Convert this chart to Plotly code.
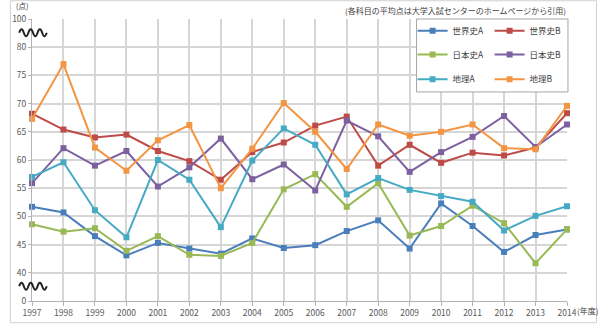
import plotly.graph_objects as go

years = list(range(1997, 2015))

sekaishi_a = [51.7, 50.7, 46.5, 43.1, 45.3, 44.3, 43.4, 46.1, 44.4, 44.9, 47.4, 49.3, 44.3, 52.3, 48.3, 43.7, 46.7, 47.7]
sekaishi_b = [68.2, 65.4, 64.0, 64.5, 61.6, 59.8, 56.5, 61.4, 63.1, 66.1, 67.7, 59.0, 62.7, 59.5, 61.3, 60.8, 62.2, 68.3]
nihonshi_a = [48.6, 47.3, 47.9, 43.9, 46.5, 43.2, 43.0, 45.3, 54.8, 57.5, 51.7, 55.9, 46.6, 48.3, 51.9, 48.8, 41.7, 47.7]
nihonshi_b = [55.9, 62.1, 59.0, 61.6, 55.3, 58.7, 63.8, 56.6, 59.2, 54.6, 67.0, 64.2, 57.9, 61.4, 64.1, 67.8, 62.3, 66.3]
chiri_a = [57.0, 59.6, 51.1, 46.3, 60.0, 56.5, 48.1, 59.9, 65.6, 62.7, 53.9, 56.8, 54.7, 53.6, 52.6, 47.5, 50.1, 51.8]
chiri_b = [67.3, 77.0, 62.2, 58.1, 63.5, 66.2, 55.0, 62.0, 70.1, 65.0, 58.4, 66.3, 64.3, 65.0, 66.3, 62.1, 61.9, 69.6]

series_names = ["世界史A", "世界史B", "日本史A", "日本史B", "地理A", "地理B"]
series_values = [sekaishi_a, sekaishi_b, nihonshi_a, nihonshi_b, chiri_a, chiri_b]
series_colors = ["#4A7EBB", "#BE4B48", "#98B954", "#7D60A0", "#46AAC5", "#F39543"]
series_legends = ["legend", "legend", "legend2", "legend2", "legend3", "legend3"]

# broken axis: 0 and 100 shown at one step outside 40..80
y_tick_vals = [35, 40, 45, 50, 55, 60, 65, 70, 75, 80, 85]
y_tick_text = ["0", "40", "45", "50", "55", "60", "65", "70", "75", "80", "100"]

title_text = "(各科目の平均点は大学入試センターのホームページから引用)"
y_unit = "(点)"
x_unit = "(年度)"

FONT = "Noto Sans CJK JP, Noto Sans, sans-serif"
W, H = 600, 330
L, R, T, B = 23, 33, 19, 25
PW, PH = W - L - R, H - T - B


def xp(px):
    return (px - L) / PW


def yp(py):
    return (H - B - py) / PH


fig = go.Figure()
for name, vals, col, lg in zip(series_names, series_values, series_colors, series_legends):
    fig.add_trace(go.Scatter(
        x=years, y=vals, name=name, mode="lines+markers",
        line=dict(color=col, width=2),
        marker=dict(symbol="square", size=6, color=col),
        cliponaxis=False, legend=lg,
    ))


def wave(px0, px1, py, amp=3.5, n=3):
    per = (px1 - px0) / n
    d = f"M{xp(px0):.5f},{yp(py):.5f}"
    x = px0
    for i in range(n):
        d += f" Q{xp(x + per / 4):.5f},{yp(py - 2 * amp):.5f} {xp(x + per / 2):.5f},{yp(py):.5f}"
        d += f" Q{xp(x + 3 * per / 4):.5f},{yp(py + 2 * amp):.5f} {xp(x + per):.5f},{yp(py):.5f}"
        x += per
    return d


shapes = [
    dict(type="rect", xref="paper", yref="paper", x0=xp(1), x1=xp(597), y0=yp(327), y1=yp(0.5),
         line=dict(color="#d0d0d0", width=1), fillcolor="rgba(0,0,0,0)", layer="below"),
    dict(type="rect", xref="paper", yref="paper", x0=xp(414), x1=xp(568), y0=yp(93), y1=yp(19),
         line=dict(color="#a6a6a6", width=1), fillcolor="white", layer="above"),
    dict(type="path", xref="paper", yref="paper", path=wave(10, 38, 33),
         line=dict(color="#222222", width=2), layer="above"),
    dict(type="path", xref="paper", yref="paper", path=wave(10, 38, 290),
         line=dict(color="#222222", width=2), layer="above"),
]

annotations = [
    dict(text=title_text, xref="paper", yref="paper", x=xp(568), y=yp(10), xanchor="right",
         yanchor="middle", showarrow=False, font=dict(size=8, color="#404040", family=FONT)),
    dict(text=y_unit, xref="paper", yref="paper", x=xp(13), y=yp(5), xanchor="center",
         yanchor="middle", showarrow=False, font=dict(size=7.5, color="#404040", family=FONT)),
    dict(text=x_unit, xref="paper", yref="paper", x=xp(575), y=yp(315), xanchor="left",
         yanchor="middle", showarrow=False, font=dict(size=8, color="#404040", family=FONT)),
]

legend_common = dict(orientation="h", xanchor="left", yanchor="middle", x=xp(410),
                     bgcolor="rgba(0,0,0,0)", borderwidth=0, entrywidth=32,
                     font=dict(size=8.5, color="#404040", family=FONT))

fig.update_layout(
    width=W, height=H,
    margin=dict(l=L, r=R, t=T, b=B),
    paper_bgcolor="white", plot_bgcolor="white",
    font=dict(family=FONT, color="#595959", size=8.5),
    showlegend=True,
    legend=dict(legend_common, y=yp(31)),
    legend2=dict(legend_common, y=yp(55)),
    legend3=dict(legend_common, y=yp(80)),
    xaxis=dict(range=[1997, 2014], tickmode="array", tickvals=years, ticktext=[str(y) for y in years],
               showgrid=True, gridcolor="#d6d6d6", gridwidth=1.5, showline=True, linecolor="#b3b3b3",
               linewidth=1, ticks="outside", ticklen=4, tickcolor="#b3b3b3", zeroline=False,
               tickfont=dict(size=8.5, color="#595959", family=FONT)),
    yaxis=dict(range=[35, 85], tickmode="array", tickvals=y_tick_vals, ticktext=y_tick_text,
               showgrid=True, gridcolor="#d6d6d6", gridwidth=1.5, showline=True, linecolor="#b3b3b3",
               linewidth=1, ticks="outside", ticklen=3, tickcolor="#b3b3b3", zeroline=False,
               tickfont=dict(size=8.5, color="#595959", family=FONT)),
    shapes=shapes,
    annotations=annotations,
)

fig.write_html("out.html")
